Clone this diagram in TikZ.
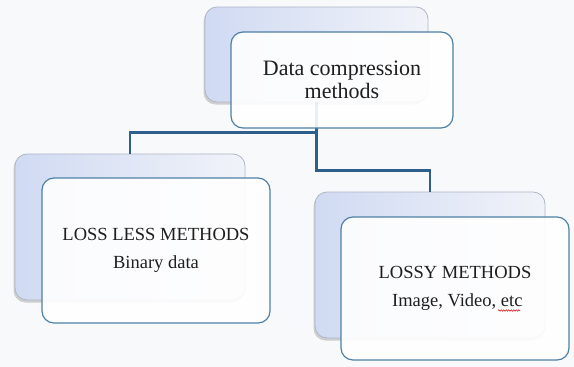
\documentclass[tikz,border=0pt]{standalone}
\usepackage{fontspec}
\setmainfont{Liberation Serif}
\usetikzlibrary{shadows,calc,decorations.pathmorphing}
\definecolor{pagebg}{HTML}{F8F9FA}
\definecolor{backleft}{HTML}{D0DAF2}
\definecolor{backmid}{HTML}{E2E7F6}
\definecolor{backright}{HTML}{F1F3F9}
\definecolor{backedge}{HTML}{AEB6C6}
\definecolor{frontedge}{HTML}{4F80A6}
\definecolor{linkblue}{HTML}{2E5F8C}
\tikzset{
  backbox/.style={rectangle, rounded corners=12pt, draw=backedge, line width=0.8pt,
    left color=backleft, middle color=backmid, right color=backright,
    drop shadow={shadow xshift=-1.5pt, shadow yshift=-2.5pt, opacity=0.35}},
  frontbox/.style={rectangle, rounded corners=12pt, draw=frontedge, line width=1.2pt,
    fill=white, fill opacity=0.9, text opacity=1, align=center, text=black!88},
  link/.style={draw=linkblue, line width=2.4pt},
  titlefont/.style={font=\fontsize{22}{23}\selectfont},
  itemfont/.style={font=\fontsize{18.5}{27.5}\selectfont}
}
\begin{document}
\begin{tikzpicture}[x=1pt,y=-1pt]
  % page
  \fill[pagebg] (0,0) rectangle (574,367);
  \useasboundingbox (0,0) rectangle (574,367);

  % rear cards
  \node[backbox, minimum width=223pt, minimum height=95pt] (tb) at (316.5,54.5) {};
  \node[backbox, minimum width=230pt, minimum height=146pt] (lb) at (130,227) {};
  \node[backbox, minimum width=230pt, minimum height=146pt] (rb) at (430,265) {};

  % tree connectors
  \draw[link] (tb.south) -- ++(0,30) -| (lb.north);
  \draw[link] (tb.south) -- ++(0,68) -| (rb.north);

  % front cards with text
  \node[frontbox, titlefont, minimum width=222pt, minimum height=96pt] (tf) at (342,80)
    {Data compression\\methods};
  \node[frontbox, itemfont, minimum width=228pt, minimum height=145pt] (lf) at (156,250.5)
    {LOSS LESS METHODS\\Binary data};
  \node[frontbox, itemfont, minimum width=228pt, minimum height=143pt] (rf) at (455,288.5)
    {LOSSY METHODS\\\ Image, Video, etc};

  % spell-check squiggle under "etc"
  \draw[red!80!black, line width=0.5pt, decorate,
        decoration={snake, amplitude=0.7pt, segment length=2.5pt}]
    ($(rf.center)+(43,22)$) -- ++(22,0);
\end{tikzpicture}
\end{document}
